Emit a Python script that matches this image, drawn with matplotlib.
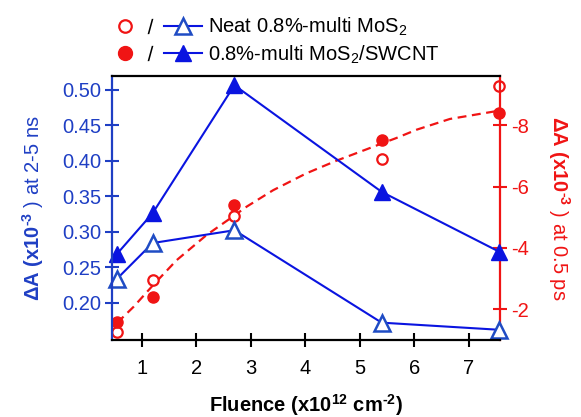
import matplotlib
matplotlib.use("Agg")
import matplotlib.pyplot as plt
from matplotlib.lines import Line2D
from matplotlib.legend_handler import HandlerBase

# fluence (x10^12 cm^-2)
fluence = [0.55, 1.2, 2.7, 5.4, 7.55]

# slow component (2-5 ns), left axis
neat_slow = [0.234, 0.284, 0.302, 0.172, 0.162]
cnt_slow = [0.269, 0.326, 0.506, 0.356, 0.272]

# fast component (0.5 ps), right axis
neat_fast = [-1.27, -2.95, -5.04, -6.88, -9.27]
cnt_fast = [-1.58, -2.41, -5.40, -7.53, -8.41]

# dashed fit curve
fit_x = [0.55, 0.85, 1.21, 1.64, 2.19, 2.67, 2.93, 3.41, 4.02, 4.57, 5.12, 5.40, 5.67, 6.04, 6.65, 7.55]
fit_y = [-1.56, -2.08, -2.79, -3.60, -4.42, -5.02, -5.35, -5.88, -6.43, -6.84, -7.21, -7.40, -7.58, -7.85, -8.20, -8.47]

left_ticks = [0.20, 0.25, 0.30, 0.35, 0.40, 0.45, 0.50]
right_ticks = [-2, -4, -6, -8]
x_ticks = [1, 2, 3, 4, 5, 6, 7]

plt.rcParams['font.family'] = ['Liberation Sans', 'DejaVu Sans']
plt.rcParams['mathtext.fontset'] = 'custom'
plt.rcParams['mathtext.rm'] = 'Liberation Sans'
plt.rcParams['mathtext.it'] = 'Liberation Sans:italic'
plt.rcParams['mathtext.bf'] = 'Liberation Sans:bold'
plt.rcParams['axes.unicode_minus'] = False

BLUE = '#0a14e0'
BLUE_OPEN = '#1f4cc4'
BLUE_AX = '#1f3fc4'
RED = '#f01414'
FS = 14.5


class PairHandler(HandlerBase):
    # circle  /  line-with-triangle
    def create_artists(self, legend, orig_handle, xdescent, ydescent,
                       width, height, fontsize, trans):
        circ, tri = orig_handle
        y = height / 2 - ydescent
        x0 = -xdescent
        c = Line2D([x0 + 0.09 * width], [y])
        c.update_from(circ)
        s = Line2D([x0 + 0.39 * width], [y], marker='$/$', color='black',
                   markersize=11, markeredgewidth=0, linestyle='none')
        ln = Line2D([x0 + 0.56 * width, x0 + width], [y, y])
        ln.update_from(tri)
        ln.set_marker('None')
        m = Line2D([x0 + 0.78 * width], [y])
        m.update_from(tri)
        m.set_linestyle('none')
        for a in (c, s, ln, m):
            a.set_transform(trans)
        return [c, s, ln, m]


fig = plt.figure(figsize=(5.81, 4.17), dpi=100)
ax = fig.add_axes([112 / 581, 1 - 340 / 417, 388 / 581, 264 / 417])
ax2 = ax.twinx()
ax.set_zorder(ax2.get_zorder() + 1)
ax.patch.set_visible(False)

# red: fast component
ax2.plot(fit_x, fit_y, color=RED, lw=1.6, linestyle=(0, (4, 2.5)))
ax2.plot(fluence, neat_fast, 'o', mfc='white', mec=RED, mew=1.6, ms=7.5,
         clip_on=False, linestyle='none')
ax2.plot(fluence, cnt_fast, 'o', color=RED, ms=8, clip_on=False, linestyle='none')

# blue: slow component
ax.plot(fluence, neat_slow, '-^', color=BLUE, lw=1.5, mfc='white', mec=BLUE_OPEN,
        mew=1.8, ms=11, clip_on=False)
ax.plot(fluence, cnt_slow, '-^', color=BLUE, lw=1.5, ms=11, clip_on=False)

ax.set_xlim(0.455, 7.57)
ax.set_ylim(0.1476, 0.519)
ax2.set_ylim(-1.0, -9.6)

ax.set_xticks(x_ticks)
ax.set_yticks(left_ticks)
ax.set_yticklabels(['%.2f' % v for v in left_ticks])
ax2.set_yticks(right_ticks)
ax2.set_yticklabels([str(v) for v in right_ticks])

ax.tick_params(axis='x', direction='inout', length=10, width=1.5, labelsize=FS,
               pad=9, colors='black')
ax.tick_params(axis='y', direction='inout', length=10, width=1.5, labelsize=FS,
               pad=3, color=BLUE_AX, labelcolor=BLUE_AX)
ax2.tick_params(axis='y', direction='inout', length=10, width=1.5, labelsize=FS,
                pad=3, color=RED, labelcolor=RED)

for sp in ['top', 'bottom']:
    ax.spines[sp].set_linewidth(1.6)
    ax.spines[sp].set_color('black')
    ax2.spines[sp].set_visible(False)
ax.spines['right'].set_visible(False)
ax.spines['left'].set_color(BLUE_AX)
ax.spines['left'].set_linewidth(1.6)
ax2.spines['left'].set_visible(False)
ax2.spines['right'].set_color(RED)
ax2.spines['right'].set_linewidth(1.6)

ax.set_xlabel(r'Fluence (x10$^{\mathbf{12}}$ cm$^{\mathbf{‐2}}$)', fontsize=FS,
              fontweight='bold', labelpad=10)
ax.set_ylabel(r'$\mathbf{ΔA\ (x10^{‐3}}$ ) at 2-5 ns', fontsize=FS, color=BLUE_AX,
              labelpad=11)
ax2.set_ylabel(r'$\mathbf{ΔA\ (x10^{‐3}}$ ) at 0.5 ps', fontsize=FS, color=RED,
               rotation=270, labelpad=31)

# legend
h_neat = (Line2D([], [], marker='o', mfc='white', mec=RED, mew=1.6, ms=9, linestyle='none'),
          Line2D([], [], marker='^', color=BLUE, lw=1.5, mfc='white', mec=BLUE_OPEN,
                 mew=1.8, ms=11))
h_cnt = (Line2D([], [], marker='o', color=RED, ms=10, linestyle='none'),
         Line2D([], [], marker='^', color=BLUE, lw=1.5, ms=11))
fig.legend([h_neat, h_cnt], ['Neat 0.8%-multi MoS$_2$', '0.8%-multi MoS$_2$/SWCNT'],
           handler_map={tuple: PairHandler()}, loc='upper left',
           bbox_to_anchor=(117 / 581, 1 - 16 / 417), frameon=False, fontsize=FS,
           handlelength=4.2, handletextpad=0.3, borderpad=0, borderaxespad=0,
           labelspacing=0.25)

fig.savefig('out.png', dpi=100)
